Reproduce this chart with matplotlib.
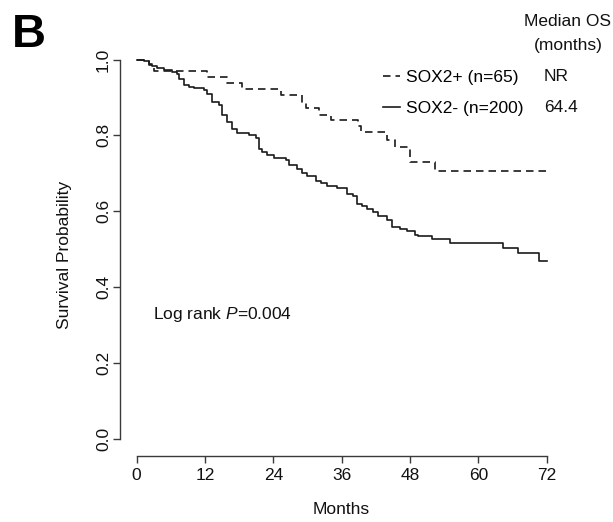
import matplotlib
matplotlib.use("Agg")
import matplotlib.pyplot as plt

plt.rcParams["font.family"] = ["Liberation Sans", "DejaVu Sans"]
plt.rcParams["mathtext.fontset"] = "custom"
plt.rcParams["mathtext.rm"] = "Liberation Sans"
plt.rcParams["mathtext.it"] = "Liberation Sans:italic"

# Kaplan-Meier step points (month, survival after step)
pos_months = [0, 2.2, 3.0, 12.4, 15.9, 18.55, 25.3, 29.1, 29.7, 32.0, 34.1,
              38.9, 39.4, 44.0, 45.4, 48.0, 52.4, 72]
pos_surv = [1.0, 0.985, 0.970, 0.954, 0.938, 0.922, 0.906, 0.888, 0.872, 0.855, 0.840,
            0.824, 0.809, 0.787, 0.769, 0.730, 0.706, 0.706]

neg_months = [0, 1.28, 2.16, 2.74, 3.57, 4.79, 6.25, 7.13, 7.43, 8.31, 9.19, 10.06,
              11.82, 12.40, 13.28, 14.45, 15.03, 15.91, 16.79, 17.67, 19.72, 20.90,
              21.48, 22.06, 22.94, 24.11, 26.17, 26.75, 28.21, 29.08, 29.96, 31.44,
              32.31, 33.47, 35.23, 36.99, 38.04, 38.64, 39.52, 40.39, 41.55, 42.43,
              43.91, 44.78, 46.24, 47.42, 48.88, 49.46, 51.81, 55.02, 64.38, 67.02,
              70.65, 72]
neg_surv = [1.0, 0.995, 0.989, 0.982, 0.978, 0.972, 0.967, 0.963, 0.950, 0.934, 0.928,
            0.925, 0.921, 0.910, 0.888, 0.879, 0.853, 0.835, 0.818, 0.807, 0.802, 0.793,
            0.765, 0.756, 0.749, 0.740, 0.734, 0.721, 0.711, 0.702, 0.693, 0.679,
            0.673, 0.666, 0.660, 0.646, 0.640, 0.620, 0.614, 0.607, 0.598, 0.587,
            0.576, 0.558, 0.552, 0.547, 0.536, 0.534, 0.526, 0.517, 0.503, 0.490,
            0.469, 0.469]

group_labels = ["SOX2+ (n=65)", "SOX2- (n=200)"]
median_os = ["NR", "64.4"]
x_ticks = [0, 12, 24, 36, 48, 60, 72]
y_ticks = [0.0, 0.2, 0.4, 0.6, 0.8, 1.0]

W, H = 613, 522
fig = plt.figure(figsize=(W / 100, H / 100), dpi=100)
ax = fig.add_axes([120 / W, 1 - 456 / H, 443.3 / W, 411.6 / H])

line_color = "#1a1a1a"
axis_color = "#3a3a3a"
fs = 12.5

l_pos, = ax.step(pos_months, pos_surv, where="post", color=line_color, lw=1.2,
                 linestyle=(0, (4.5, 3)))
l_neg, = ax.step(neg_months, neg_surv, where="post", color=line_color, lw=1.2)

ax.set_xlim(-2.93, 74.93)
ax.set_ylim(-0.046, 1.04)
ax.set_xticks(x_ticks)
ax.set_yticks(y_ticks)
ax.set_yticklabels([f"{v:.1f}" for v in y_ticks], rotation=90, va="center")
for s in ["top", "right"]:
    ax.spines[s].set_visible(False)
ax.spines["left"].set_bounds(0, 1)
ax.spines["bottom"].set_bounds(0, 72)
for s in ["left", "bottom"]:
    ax.spines[s].set_color(axis_color)
    ax.spines[s].set_linewidth(1.0)
ax.tick_params(axis="both", colors=axis_color, length=5, width=1.0, labelsize=fs,
               labelcolor="#111111")
ax.tick_params(axis="x", pad=3.7)
ax.tick_params(axis="y", pad=1.5)

fig.text(341.5 / W, 1 - 514 / H, "Months", ha="center", va="baseline", fontsize=fs,
         color="#111111")
fig.text(65 / W, 1 - 255 / H, "Survival Probability", ha="center", va="center",
         rotation=90, fontsize=fs, color="#111111")

ax.legend([l_pos, l_neg], group_labels, loc="upper left",
          bbox_to_anchor=(383 / W, 1 - 70 / H), bbox_transform=fig.transFigure,
          frameon=False, fontsize=fs, borderpad=0, borderaxespad=0,
          handlelength=1.0, handletextpad=0.3, labelspacing=0.93)

fig.text(568 / W, 1 - 26 / H, "Median OS", ha="center", va="baseline", fontsize=fs,
         color="#111111")
fig.text(568 / W, 1 - 50 / H, "(months)", ha="center", va="baseline", fontsize=fs,
         color="#111111")
for row, val in enumerate(median_os):
    fig.text(544 / W, 1 - (80.7 + 31.6 * row) / H, val, ha="left", va="baseline",
             fontsize=fs, color="#111111")

fig.text(152.7 / W, 1 - 319 / H, "Log rank $\\it{P}$=0.004", ha="left", va="baseline",
         fontsize=fs, color="#111111")

fig.text(12 / W, 1 - 47 / H, "B", ha="left", va="baseline", fontsize=34,
         fontweight="bold", color="black")

fig.savefig("out.png", dpi=100)
